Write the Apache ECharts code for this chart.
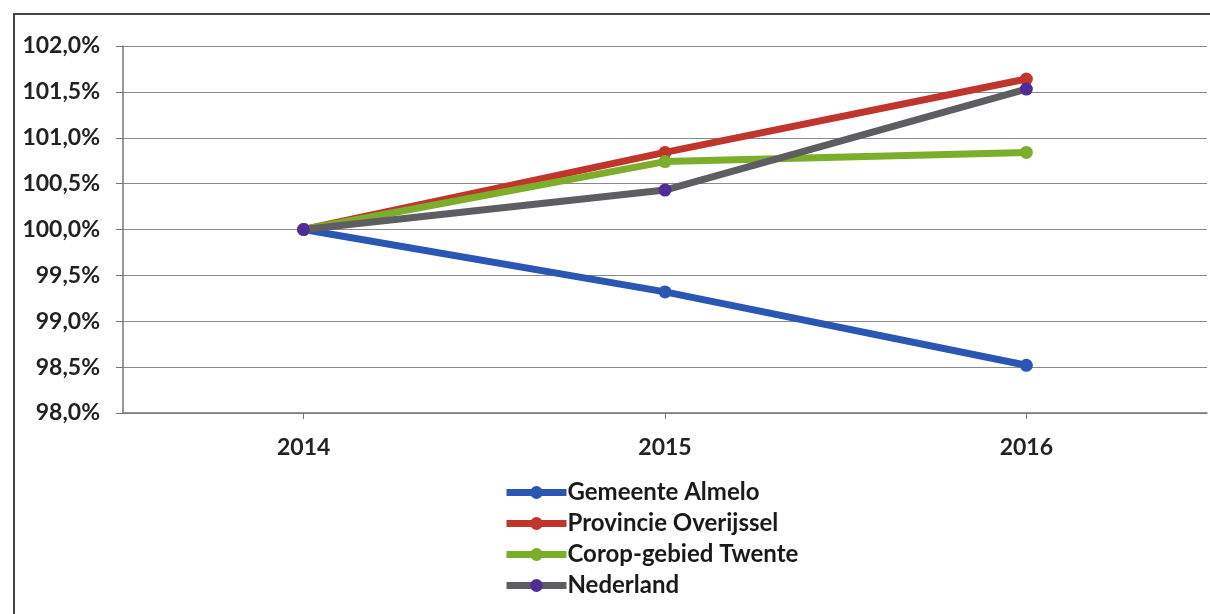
<!DOCTYPE html>
<html><head><meta charset="utf-8">
<script src="https://cdn.jsdelivr.net/npm/echarts@6/dist/echarts.min.js"></script>
<style>html,body{margin:0;padding:0;background:#fff}#c{width:1210px;height:614px}</style>
</head><body><div id="c"></div>
<script>
const categories = ['2014', '2015', '2016'];
const almelo = [100.0, 99.32, 98.52];
const overijssel = [100.0, 100.84, 101.64];
const twente = [100.0, 100.74, 100.84];
const nederland = [100.0, 100.43, 101.53];
const seriesNames = ['Gemeente Almelo', 'Provincie Overijssel', 'Corop-gebied Twente', 'Nederland'];

const chart = echarts.init(document.getElementById('c'));
const font = 'Lato';
function mk(name, data, lineColor, dotColor) {
  return {
    name, type: 'line', data,
    symbol: 'circle', symbolSize: 13,
    lineStyle: { width: 7, color: lineColor },
    itemStyle: { color: dotColor },
    emphasis: { disabled: true },
    animation: false
  };
}
chart.setOption({
  animation: false,
  graphic: [{
    type: 'rect', shape: { x: 14, y: 14, width: 1220, height: 640 },
    style: { fill: 'none', stroke: '#444', lineWidth: 2 }, silent: true
  }],
  grid: { left: 123, right: 3, top: 46, bottom: 201 },
  xAxis: {
    type: 'category', data: categories, boundaryGap: true,
    axisLine: { lineStyle: { color: '#777', width: 1.5 } },
    axisTick: { show: true, alignWithLabel: true, length: 6, lineStyle: { color: '#777' } },
    axisLabel: { color: '#222', fontFamily: font, fontWeight: 'bold', fontSize: 23, margin: 23 },
    splitLine: { show: false }
  },
  yAxis: {
    type: 'value', min: 98, max: 102, interval: 0.5,
    axisLine: { show: true, lineStyle: { color: '#777', width: 1.5 } },
    axisTick: { show: true, length: 7, inside: false, lineStyle: { color: '#777' } },
    splitLine: { lineStyle: { color: '#8a8a8a', width: 1.2 } },
    axisLabel: {
      color: '#222', fontFamily: font, fontWeight: 'bold', fontSize: 23, margin: 23,
      formatter: v => v.toFixed(1).replace('.', ',') + '%'
    }
  },
  legend: {
    orient: 'vertical', left: 503, top: 480, padding: 0,
    itemWidth: 60, itemHeight: 16, itemGap: 6,
    lineStyle: { width: 7 },
    data: seriesNames,
    textStyle: { color: '#1a1a1a', fontFamily: font, fontWeight: 'bold', fontSize: 24, padding: [0, 0, 0, -4], lineHeight: 25 }
  },
  series: [
    mk(seriesNames[0], almelo, '#2B56B3', '#2B56B3'),
    mk(seriesNames[1], overijssel, '#C0362C', '#C0362C'),
    mk(seriesNames[2], twente, '#7DAE2B', '#7DAE2B'),
    mk(seriesNames[3], nederland, '#5E5E62', '#4F2D95')
  ]
});
</script></body></html>
